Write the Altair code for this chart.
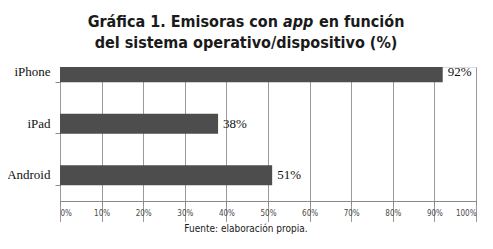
import altair as alt
import pandas as pd

# ---- data ----
categories = ["iPhone", "iPad", "Android"]
values = [92, 38, 51]
x_ticks = [0, 10, 20, 30, 40, 50, 60, 70, 80, 90, 100]

title_a = "Gráfica 1. Emisoras con"
title_app = "app"
title_b = "en función"
title_line2 = "del sistema operativo/dispositivo (%)"
source = "Fuente: elaboración propia."

COND = "Liberation Sans Narrow, DejaVu Sans Condensed, Roboto Condensed, Arial Narrow, sans-serif"
SERIF = "Liberation Serif, Times New Roman, serif"

df = pd.DataFrame({"cat": categories, "val": values})
df["label"] = [f"{v}%" for v in values]

yscale = alt.Scale(domain=categories, range=[-20.5, 134], paddingInner=0.612, paddingOuter=0.306)
xscale = alt.Scale(domain=[0, 100], nice=False, zero=True)

base = alt.Chart(df)

bars = base.mark_bar(color="#4d4d4d", clip=True).encode(
    x=alt.X("val:Q", scale=xscale,
            axis=alt.Axis(values=x_ticks, title=None, grid=True, gridColor="#9a9a9a",
                          domainColor="#8a8a8a", tickColor="#8a8a8a", tickSize=4,
                          labelExpr="datum.value + '%'", labelFont=COND, labelFontSize=8,
                          labelColor="#4a4a4a", labelPadding=4)),
    y=alt.Y("cat:N", scale=yscale, sort=categories,
            axis=alt.Axis(title=None, domain=False, grid=False, ticks=True, tickColor="#8a8a8a",
                          tickSize=5, bandPosition=1, labelFont=SERIF, labelFontSize=13,
                          labelColor="#111111", labelPadding=5)),
)

labels = base.mark_text(align="left", baseline="middle", dx=5, font=SERIF, fontSize=13,
                        color="#111111").encode(
    x=alt.X("val:Q", scale=xscale),
    y=alt.Y("cat:N", scale=yscale, sort=categories),
    text="label:N",
)

def txt(s, x, y, align="left", size=16, style="normal", weight="bold", font=COND):
    return alt.Chart(pd.DataFrame({"t": [s]})).mark_text(
        align=align, baseline="alphabetic", font=font, fontSize=size,
        fontWeight=weight, fontStyle=style, color="#1a1a1a"
    ).encode(text="t:N", x=alt.value(x), y=alt.value(y))

t1 = txt(title_a, 218, -40, align="right")
t2 = txt(title_app, 223, -40, style="italic")
t3 = txt(title_b, 259, -40)
t4 = txt(title_line2, 186, -19, align="center")
t5 = txt(source, 186, 165, align="center", size=10, weight="normal")

chart = alt.layer(bars, labels, t1, t2, t3, t4, t5).properties(
    width=416, height=134,
    autosize=alt.AutoSizeParams(type="none"),
    padding={"left": 52, "top": 59, "right": 9, "bottom": 40},
).configure_view(stroke=None).configure(background="white")

chart.save("out.html", embed_options={"renderer": "svg", "actions": False})
